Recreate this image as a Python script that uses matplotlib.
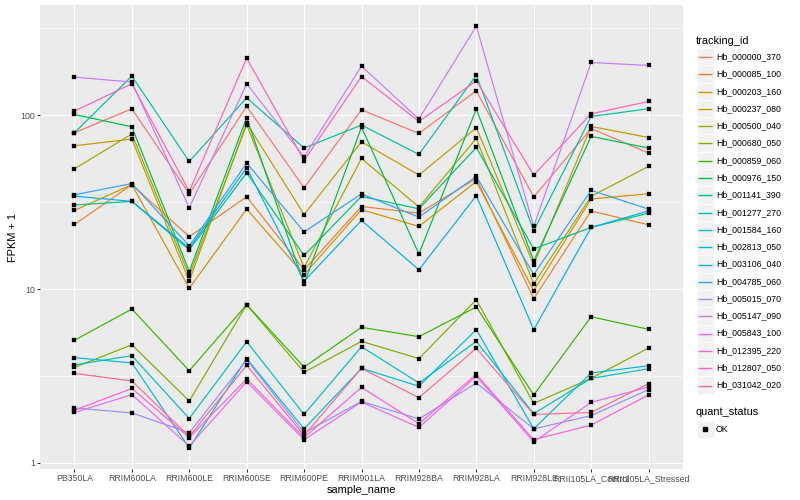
import matplotlib
matplotlib.use("Agg")
import matplotlib.pyplot as plt
from matplotlib.lines import Line2D
from matplotlib.patches import Rectangle
import numpy as np

plt.rcParams['font.family'] = ['Liberation Sans', 'DejaVu Sans']

sample_names = ["PB350LA", "RRIM600LA", "RRIM600LE", "RRIM600SE", "RRIM600PE",
                "RRIM901LA", "RRIM928BA", "RRIM928LA", "RRIM928LE",
                "RRII105LA_Control", "RRII105LA_Stressed"]

tracking_ids = ["Hb_000000_370", "Hb_000085_100", "Hb_000203_160", "Hb_000237_080",
                "Hb_000500_040", "Hb_000680_050", "Hb_000859_060", "Hb_000976_150",
                "Hb_001141_390", "Hb_001277_270", "Hb_001584_160", "Hb_002813_050",
                "Hb_003106_040", "Hb_004785_060", "Hb_005015_070", "Hb_005147_090",
                "Hb_005843_100", "Hb_012395_220", "Hb_012807_050", "Hb_031042_020"]

# FPKM + 1 per sample (same order as sample_names)
Hb_000000_370 = [79.1, 108.7, 35.3, 112.1, 38.2, 107.3, 78.4, 137.9, 33.8, 83.7, 60.5]
Hb_000085_100 = [23.5, 39.8, 20.0, 33.9, 12.9, 29.8, 27.3, 43.2, 8.80, 28.1, 23.4]
Hb_000203_160 = [28.3, 39.8, 10.1, 28.8, 12.1, 28.6, 22.9, 41.5, 9.78, 32.9, 35.3]
Hb_000237_080 = [66.6, 72.8, 11.1, 89.9, 26.8, 70.2, 45.2, 84.5, 13.8, 86.0, 74.3]
Hb_000500_040 = [49.1, 77.8, 11.9, 88.0, 13.3, 56.3, 29.6, 73.4, 10.7, 34.1, 50.7]
Hb_000680_050 = [3.54, 4.78, 2.27, 8.12, 3.32, 5.00, 3.98, 8.68, 2.20, 3.06, 4.58]
Hb_000859_060 = [5.07, 7.67, 3.39, 8.12, 3.56, 6.02, 5.32, 7.88, 2.46, 6.93, 5.86]
Hb_000976_150 = [100.8, 85.6, 12.6, 96.5, 10.7, 85.3, 15.9, 108.3, 14.5, 75.4, 64.6]
Hb_001141_390 = [30.4, 31.9, 16.8, 46.6, 15.6, 34.1, 28.9, 65.1, 17.0, 22.6, 27.3]
Hb_001277_270 = [79.1, 167.5, 54.1, 125.7, 64.6, 87.6, 59.4, 169.7, 21.6, 98.2, 108.7]
Hb_001584_160 = [3.66, 4.14, 1.80, 4.98, 1.90, 4.66, 2.88, 5.00, 1.92, 3.06, 3.48]
Hb_002813_050 = [4.03, 3.76, 1.22, 3.98, 1.57, 3.50, 2.76, 5.84, 1.57, 3.29, 3.62]
Hb_003106_040 = [34.2, 31.9, 17.2, 49.8, 11.1, 24.8, 12.9, 34.4, 5.84, 22.6, 28.1]
Hb_004785_060 = [34.8, 40.4, 17.7, 53.0, 21.3, 35.2, 25.9, 44.4, 12.1, 36.9, 28.8]
Hb_005015_070 = [2.07, 1.94, 1.49, 3.92, 1.49, 2.26, 1.79, 2.88, 1.57, 1.87, 2.64]
Hb_005147_090 = [165.3, 154.8, 29.3, 151.3, 57.4, 191.2, 94.8, 324.8, 22.9, 200.6, 192.8]
Hb_005843_100 = [1.95, 2.47, 1.25, 2.93, 1.36, 2.24, 1.60, 3.15, 1.32, 2.23, 2.73]
Hb_012395_220 = [2.01, 2.68, 1.40, 3.04, 1.40, 2.72, 1.68, 3.23, 1.36, 1.65, 2.46]
Hb_012807_050 = [105.4, 151.3, 36.4, 212.6, 54.8, 166.6, 91.9, 157.4, 45.2, 101.7, 119.7]
Hb_031042_020 = [3.27, 2.96, 1.42, 3.64, 1.44, 3.50, 2.37, 4.56, 1.90, 1.95, 2.86]

series_values = [Hb_000000_370, Hb_000085_100, Hb_000203_160, Hb_000237_080,
                 Hb_000500_040, Hb_000680_050, Hb_000859_060, Hb_000976_150,
                 Hb_001141_390, Hb_001277_270, Hb_001584_160, Hb_002813_050,
                 Hb_003106_040, Hb_004785_060, Hb_005015_070, Hb_005147_090,
                 Hb_005843_100, Hb_012395_220, Hb_012807_050, Hb_031042_020]

quant_levels = ["OK"]

colors = ["#F8766D", "#EA8331", "#D89000", "#C09B00", "#A3A500", "#7CAE00", "#39B600",
          "#00BB4E", "#00BF7D", "#00C1A3", "#00BFC4", "#00BAE0", "#00B0F6", "#35A2FF",
          "#9590FF", "#C77CFF", "#E76BF3", "#FA62DB", "#FF62BC", "#FF6C91"]

W, H = 800, 500
PX = 72.0 / 100.0  # points per pixel at dpi 100

fig = plt.figure(figsize=(W / 100, H / 100), dpi=100)
fig.patch.set_facecolor("white")

pl, pr, pt, pb = 40, 683, 5, 469
ax = fig.add_axes([pl / W, 1 - pb / H, (pr - pl) / W, (pb - pt) / H])
ax.set_facecolor("#EBEBEB")
for s in ax.spines.values():
    s.set_visible(False)

x = np.arange(len(sample_names))
for vals, col in zip(series_values, colors):
    ax.plot(x, vals, color=col, lw=1.2 * PX, zorder=3, solid_capstyle="butt")
for vals in series_values:
    ax.plot(x, vals, ls="none", marker="s", ms=3.1 * PX, color="black",
            mec="black", mew=0.2, zorder=4)

ax.set_yscale("log")
allv = np.concatenate([np.asarray(v, float) for v in series_values])
lo, hi = np.log10(allv.min()), np.log10(allv.max())
pad = 0.05 * (hi - lo)
ax.set_ylim(10 ** (lo - pad), 10 ** (hi + pad))
ax.set_xlim(-0.6, len(sample_names) - 1 + 0.6)

ax.set_yticks([1, 10, 100])
ax.set_yticklabels(["1", "10", "100"])
ax.set_yticks([10 ** 0.5, 10 ** 1.5, 10 ** 2.5], minor=True)
ax.yaxis.set_minor_formatter(plt.NullFormatter())
ax.set_xticks(x)
ax.set_xticklabels(sample_names)

ax.grid(True, which="major", axis="both", color="white", lw=1.07 * PX, zorder=0)
ax.grid(True, which="minor", axis="y", color="white", lw=0.53 * PX, zorder=0)
ax.set_axisbelow(True)

ax.tick_params(axis="both", which="major", length=2.74 * PX, width=1.07 * PX,
               color="#333333", labelcolor="#4D4D4D", labelsize=8.8 * PX,
               pad=2.2 * PX)
ax.tick_params(axis="both", which="minor", length=0)

ax.set_xlabel("sample_name", fontsize=11 * PX, color="black", labelpad=2.5 * PX)
ax.set_ylabel("FPKM + 1", fontsize=11 * PX, color="black", labelpad=2.5 * PX)


def fx(px_x):
    return px_x / W


def fy(px_y):
    return 1 - px_y / H


key = 17.28

# tracking_id legend
fig.text(fx(696), fy(40.7), "tracking_id", fontsize=11 * PX, va="center", ha="left")
for i, (name, col) in enumerate(zip(tracking_ids, colors)):
    cy = 56.7 + key * i
    ly = np.floor(cy) + 0.5
    fig.add_artist(Rectangle((fx(696.7), fy(cy + key / 2)), key / W, key / H,
                             transform=fig.transFigure, facecolor="#F2F2F2",
                             edgecolor="white", lw=0.5, zorder=1))
    fig.add_artist(Line2D([fx(698.4), fx(712.3)], [fy(ly), fy(ly)],
                          transform=fig.transFigure, color=col, lw=1.4 * PX,
                          solid_capstyle="butt", zorder=5))
    fig.text(fx(716.7), fy(cy), name, fontsize=8.8 * PX, va="center", ha="left")

# quant_status legend
fig.text(fx(696), fy(412.3), "quant_status", fontsize=11 * PX, va="center", ha="left")
for j, lev in enumerate(quant_levels):
    cy = 429.3 + key * j
    fig.add_artist(Rectangle((fx(696.7), fy(cy + key / 2)), key / W, key / H,
                             transform=fig.transFigure, facecolor="#F2F2F2",
                             edgecolor="white", lw=0.5, zorder=1))
    fig.add_artist(Line2D([fx(705.3)], [fy(cy)], transform=fig.transFigure,
                          ls="none", marker="s", ms=3.1 * PX, color="black", zorder=5))
    fig.text(fx(715.7), fy(cy), lev, fontsize=8.8 * PX, va="center", ha="left")

fig.savefig("out.png", dpi=100, facecolor="white")
